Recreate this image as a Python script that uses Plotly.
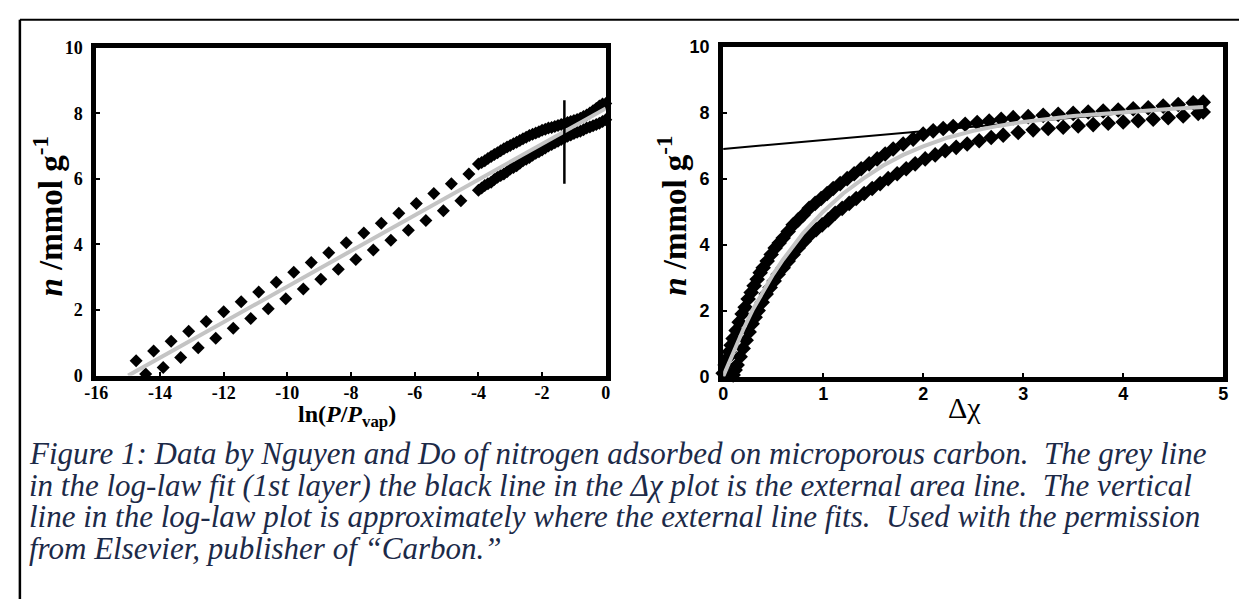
import plotly.graph_objects as go

# ---------------- data ----------------
# Left panel: log-law plot, n vs ln(P/Pvap)
left_upper_x = [-14.75, -14.2, -13.65, -13.1, -12.55, -12.0, -11.45, -10.9, -10.35, -9.8,
                -9.25, -8.7, -8.15, -7.6, -7.05, -6.5, -5.95, -5.4, -4.85, -4.3,
                -4.0, -3.9, -3.8, -3.7, -3.6, -3.5, -3.4, -3.3, -3.2, -3.1, -3.0,
                -2.9, -2.8, -2.7, -2.6, -2.5, -2.4, -2.3, -2.2, -2.1, -2.0,
                -1.9, -1.8, -1.7, -1.6, -1.5, -1.4, -1.3, -1.2, -1.1, -1.0,
                -0.9, -0.8, -0.7, -0.6, -0.5, -0.4, -0.3, -0.2, -0.1, 0.0]
left_upper_y = [0.45, 0.75, 1.05, 1.35, 1.65, 1.95, 2.25, 2.55, 2.85, 3.15,
                3.45, 3.75, 4.05, 4.35, 4.65, 4.95, 5.25, 5.55, 5.85, 6.15,
                6.45, 6.5, 6.55, 6.62, 6.68, 6.74, 6.8, 6.86, 6.92, 6.97, 7.02,
                7.07, 7.12, 7.17, 7.22, 7.27, 7.32, 7.36, 7.4, 7.44, 7.48,
                7.51, 7.55, 7.57, 7.6, 7.63, 7.66, 7.69, 7.72, 7.75, 7.78,
                7.81, 7.85, 7.9, 7.95, 8.01, 8.08, 8.15, 8.22, 8.28, 8.3]
left_lower_x = [-14.45, -13.9, -13.35, -12.8, -12.25, -11.7, -11.15, -10.6, -10.05, -9.5,
                -8.95, -8.4, -7.85, -7.3, -6.75, -6.2, -5.65, -5.1, -4.55,
                -4.0, -3.9, -3.8, -3.7, -3.6, -3.5, -3.4, -3.3, -3.2, -3.1, -3.0,
                -2.9, -2.8, -2.7, -2.6, -2.5, -2.4, -2.3, -2.2, -2.1, -2.0,
                -1.9, -1.8, -1.7, -1.6, -1.5, -1.4, -1.3, -1.2, -1.1, -1.0,
                -0.9, -0.8, -0.7, -0.6, -0.5, -0.4, -0.3, -0.2, -0.1, 0.0]
left_lower_y = [0.05, 0.25, 0.55, 0.85, 1.14, 1.44, 1.74, 2.04, 2.34, 2.64,
                2.94, 3.24, 3.54, 3.83, 4.13, 4.43, 4.73, 5.03, 5.33,
                5.65, 5.72, 5.8, 5.85, 5.9, 5.98, 6.05, 6.1, 6.15, 6.22, 6.3,
                6.35, 6.4, 6.48, 6.55, 6.6, 6.65, 6.72, 6.78, 6.83, 6.88,
                6.94, 7.0, 7.05, 7.1, 7.15, 7.2, 7.25, 7.3, 7.34, 7.38,
                7.42, 7.45, 7.5, 7.55, 7.58, 7.62, 7.66, 7.7, 7.75, 7.8]
left_fit_x = [-15.0, 0.0]
left_fit_y = [0.0, 8.15]
left_vline_x = [-1.3, -1.3]
left_vline_y = [5.85, 8.4]

# Right panel: n vs delta-chi
right_upper_x = [0.0, 0.02, 0.04, 0.06, 0.08, 0.1, 0.13, 0.16, 0.19, 0.22, 0.25, 0.28, 0.31,
                 0.34, 0.37, 0.4, 0.44, 0.48, 0.52, 0.56, 0.6, 0.65, 0.7, 0.75, 0.8, 0.86,
                 0.92, 0.98, 1.04, 1.1, 1.17, 1.24, 1.31, 1.38, 1.46, 1.54, 1.62, 1.7, 1.8,
                 1.9, 2.0, 2.1, 2.2, 2.3, 2.42, 2.54, 2.66, 2.78, 2.9, 3.05, 3.2, 3.35, 3.5,
                 3.65, 3.8, 3.95, 4.1, 4.25, 4.4, 4.55, 4.7, 4.8]
right_upper_y = [0.1, 0.35, 0.55, 0.75, 0.95, 1.15, 1.4, 1.65, 1.9, 2.1, 2.35, 2.55, 2.75,
                 2.95, 3.15, 3.3, 3.5, 3.7, 3.9, 4.05, 4.2, 4.4, 4.6, 4.75, 4.9, 5.1,
                 5.25, 5.4, 5.55, 5.7, 5.85, 6.0, 6.15, 6.3, 6.45, 6.6, 6.75, 6.9, 7.05,
                 7.2, 7.35, 7.45, 7.52, 7.58, 7.65, 7.7, 7.75, 7.8, 7.85, 7.88, 7.92, 7.95, 7.98,
                 8.02, 8.05, 8.08, 8.12, 8.15, 8.2, 8.25, 8.3, 8.32]
right_lower_x = [0.1, 0.12, 0.14, 0.17, 0.2, 0.23, 0.26, 0.29, 0.32, 0.35, 0.39, 0.43, 0.47,
                 0.51, 0.55, 0.6, 0.65, 0.7, 0.75, 0.81, 0.87, 0.93, 0.99, 1.05, 1.12, 1.19,
                 1.26, 1.33, 1.41, 1.49, 1.57, 1.65, 1.74, 1.83, 1.92, 2.02, 2.12, 2.22, 2.33,
                 2.44, 2.56, 2.68, 2.8, 2.95, 3.1, 3.25, 3.4, 3.55, 3.7, 3.85, 4.0, 4.15,
                 4.3, 4.45, 4.6, 4.75, 4.8]
right_lower_y = [0.05, 0.2, 0.35, 0.6, 0.85, 1.1, 1.35, 1.6, 1.8, 2.0, 2.25, 2.5, 2.7,
                 2.9, 3.1, 3.3, 3.5, 3.7, 3.9, 4.1, 4.3, 4.45, 4.6, 4.75, 4.95, 5.1,
                 5.25, 5.4, 5.55, 5.7, 5.85, 6.0, 6.15, 6.3, 6.45, 6.6, 6.72, 6.85, 6.95,
                 7.05, 7.15, 7.25, 7.32, 7.4, 7.48, 7.52, 7.56, 7.6, 7.64, 7.68, 7.72, 7.76,
                 7.8, 7.85, 7.9, 7.98, 8.02]
right_fit_x = [0.0, 0.1, 0.2, 0.3, 0.4, 0.5, 0.6, 0.8, 1.0, 1.2, 1.4, 1.6, 1.8, 2.0,
               2.25, 2.5, 2.75, 3.0, 3.5, 4.0, 4.5, 4.8]
right_fit_y = [0.0, 0.73, 1.42, 2.05, 2.6, 3.1, 3.55, 4.35, 5.0, 5.55, 6.0, 6.4, 6.72, 6.98,
               7.25, 7.45, 7.6, 7.72, 7.9, 8.02, 8.12, 8.17]
right_ext_x = [0.0, 4.8]
right_ext_y = [6.9, 8.2]

left_xticks = [-16, -14, -12, -10, -8, -6, -4, -2, 0]
right_xticks = [0, 1, 2, 3, 4, 5]
yticks = [0, 2, 4, 6, 8, 10]

caption_lines = [
    "Figure 1: Data by Nguyen and Do of nitrogen adsorbed on microporous carbon.\u00a0 The grey line",
    "in the log-law fit (1st layer) the black line in the \u0394\u03c7 plot is the external area line.\u00a0 The vertical",
    "line in the log-law plot is approximately where the external line fits.\u00a0 Used with the permission",
    "from Elsevier, publisher of \u201cCarbon.\u201d",
]

# ---------------- figure ----------------
W, H = 1244, 609
fig = go.Figure()

mk_l = dict(symbol="diamond", size=10, color="black")
mk_r = dict(symbol="diamond", size=12, color="black")

fig.add_trace(go.Scatter(x=left_upper_x, y=left_upper_y, mode="markers", marker=mk_l,
                         xaxis="x", yaxis="y", cliponaxis=False))
fig.add_trace(go.Scatter(x=left_lower_x, y=left_lower_y, mode="markers", marker=mk_l,
                         xaxis="x", yaxis="y", cliponaxis=False))
fig.add_trace(go.Scatter(x=left_fit_x, y=left_fit_y, mode="lines",
                         line=dict(color="#c4c4c4", width=4), xaxis="x", yaxis="y", cliponaxis=False))
fig.add_trace(go.Scatter(x=left_vline_x, y=left_vline_y, mode="lines",
                         line=dict(color="black", width=2.5), xaxis="x", yaxis="y"))

fig.add_trace(go.Scatter(x=right_ext_x, y=right_ext_y, mode="lines",
                         line=dict(color="black", width=2), xaxis="x2", yaxis="y2"))
fig.add_trace(go.Scatter(x=right_upper_x, y=right_upper_y, mode="markers", marker=mk_r,
                         xaxis="x2", yaxis="y2", cliponaxis=False))
fig.add_trace(go.Scatter(x=right_lower_x, y=right_lower_y, mode="markers", marker=mk_r,
                         xaxis="x2", yaxis="y2", cliponaxis=False))
fig.add_trace(go.Scatter(x=right_fit_x, y=right_fit_y, mode="lines",
                         line=dict(color="#c4c4c4", width=4), xaxis="x2", yaxis="y2", cliponaxis=False))

serif_b = dict(family="Liberation Serif", size=18, color="black")
sans_b = dict(family="Liberation Sans", size=18, color="black")

common_ax = dict(showline=True, linewidth=5, linecolor="black", mirror=True,
                 showgrid=False, zeroline=False, ticks="inside", ticklen=4,
                 tickwidth=2, tickcolor="black")

fig.update_layout(
    width=W, height=H,
    margin=dict(l=0, r=0, t=0, b=0),
    paper_bgcolor="white", plot_bgcolor="white",
    showlegend=False,
    xaxis=dict(domain=[85.5 / W, 602 / W], range=[-16, 0], tickvals=left_xticks,
               ticktext=["<b>%d</b>" % v for v in left_xticks], tickfont=serif_b,
               anchor="y", ticklabelstandoff=-3, **common_ax),
    yaxis=dict(domain=[1 - 378 / H, 1 - 39 / H], range=[0, 10], tickvals=yticks,
               ticktext=["<b>%d</b>" % v for v in yticks], tickfont=serif_b,
               anchor="x", ticklabelstandoff=5, **common_ax),
    xaxis2=dict(domain=[721 / W, 1228 / W], range=[0, 5], tickvals=right_xticks,
                ticktext=["<b>%d</b>" % v for v in right_xticks], tickfont=sans_b,
                anchor="y2", ticklabelstandoff=-3, **common_ax),
    yaxis2=dict(domain=[1 - 379 / H, 1 - 38 / H], range=[0, 10], tickvals=yticks,
                ticktext=["<b>%d</b>" % v for v in yticks], tickfont=sans_b,
                anchor="x2", ticklabelstandoff=5, **common_ax),
)


def px(x):
    return x / W


def py(y):
    return 1 - y / H


ytitle = "<b><i>n</i> /mmol g<sup>-1</sup></b>"
for xc in (37, 669):
    fig.add_annotation(x=px(xc), y=py(213), xref="paper", yref="paper", text=ytitle,
                       textangle=-90, showarrow=False, xanchor="center", yanchor="middle",
                       font=dict(family="Liberation Serif", size=33, color="black"))
fig.add_annotation(x=px(340), y=py(420), xref="paper", yref="paper",
                   text="<b>ln(<i>P</i>/<i>P</i><sub>vap</sub>)</b>", showarrow=False,
                   xanchor="center", yanchor="middle",
                   font=dict(family="Liberation Serif", size=24, color="black"))
fig.add_annotation(x=px(966), y=py(411), xref="paper", yref="paper",
                   text="\u0394\u03c7", showarrow=False, xanchor="center", yanchor="middle",
                   font=dict(family="Liberation Serif", size=30, color="black"))

# caption
cap_y = [459, 491.5, 524, 556.5]
for line, yy in zip(caption_lines, cap_y):
    fig.add_annotation(x=px(15), y=py(yy), xref="paper", yref="paper", text="<i>%s</i>" % line,
                       xanchor="left", yanchor="middle", showarrow=False,
                       font=dict(family="Liberation Serif", size=31, color="#1c2a48"))

# page border (top and left)
fig.add_shape(type="line", xref="paper", yref="paper", x0=px(8), x1=1, y0=py(10), y1=py(10),
              line=dict(color="black", width=2))
fig.add_shape(type="line", xref="paper", yref="paper", x0=px(8), x1=px(8), y0=py(10), y1=0,
              line=dict(color="black", width=2.5))

fig.write_html("out.html", config={"displayModeBar": False},
               post_script="document.body.style.margin='0';document.body.style.overflow='hidden';")
